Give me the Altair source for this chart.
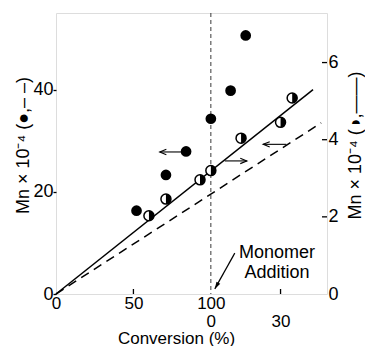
import altair as alt
import pandas as pd

FONT = "Liberation Sans"
FS = 18
FS_X = 17
W, H = 271, 281          # plot area
STAGE2_FACTOR = 1.5      # horizontal stretch of the post-addition conversion scale

# ---- data ------------------------------------------------------------------
# stage 1: conversion of the first monomer charge (0-100 %)
# stage 2: conversion after monomer addition (0-50 %)
filled_stage = [1, 1, 1, 1, 2, 2]
filled_conv = [52, 71, 84, 100, 8.5, 15]
filled_mn = [16.3, 23.3, 27.9, 34.3, 39.8, 50.6]        # Mn x 1e-4 (left axis)

half_stage = [1, 1, 1, 1, 2, 2, 2]
half_conv = [60, 71, 93, 100, 13, 30, 35]
half_mn = [2.03, 2.46, 2.96, 3.20, 4.04, 4.45, 5.08]     # Mn x 1e-4 (right axis)

line_stage = [1, 2]
solid_conv = [0, 44]
solid_mn = [0, 5.30]          # right axis
dashed_conv = [0, 47.5]
dashed_mn = [0, 33.5]         # left axis

# arrows pointing each series to its axis: (stage, tail, tip, y)
left_arrow_stage = [1]
left_arrow_tail = [81]
left_arrow_tip = [67]
left_arrow_y = [27.8]
left_arrow_dir = ["l"]

right_arrow_stage = [2, 2]
right_arrow_tail = [6, 32.5]
right_arrow_tip = [15.5, 22.5]
right_arrow_y = [3.45, 3.88]
right_arrow_dir = ["r", "l"]

# "Monomer Addition" pointer (stage-2 conversion, left-axis units)
note_text = ["Monomer", "Addition"]
note_x, note_y = 28.5, 9.8
pointer_from = (10.3, 8.0)
pointer_to = (1.7, 1.0)

left_ticks = [0, 20, 40]
right_ticks = [0, 2, 4, 6]
bottom_tick_pos = [0, 50, 100, 145]
bottom_inner_ticks = [50, 145]
left_domain = [0, 55]
right_domain = [0, 55 / 7.55]


def pos(stage, conv):
    return conv if stage == 1 else 100 + STAGE2_FACTOR * conv


filled_df = pd.DataFrame({"pos": [pos(s, c) for s, c in zip(filled_stage, filled_conv)],
                          "mn": filled_mn})
half_df = pd.DataFrame({"pos": [pos(s, c) for s, c in zip(half_stage, half_conv)],
                        "mn": half_mn})
solid_df = pd.DataFrame({"pos": [pos(s, c) for s, c in zip(line_stage, solid_conv)],
                         "mn": solid_mn})
dashed_df = pd.DataFrame({"pos": [pos(s, c) for s, c in zip(line_stage, dashed_conv)],
                          "mn": dashed_mn})
left_arrow_df = pd.DataFrame({
    "tail": [pos(s, c) for s, c in zip(left_arrow_stage, left_arrow_tail)],
    "pos": [pos(s, c) for s, c in zip(left_arrow_stage, left_arrow_tip)],
    "mn": left_arrow_y, "dir": left_arrow_dir})
right_arrow_df = pd.DataFrame({
    "tail": [pos(s, c) for s, c in zip(right_arrow_stage, right_arrow_tail)],
    "pos": [pos(s, c) for s, c in zip(right_arrow_stage, right_arrow_tip)],
    "mn": right_arrow_y, "dir": right_arrow_dir})
note_df = pd.DataFrame({"pos": [pos(2, note_x)], "mn": [note_y],
                        "text": ["\n".join(note_text)]})
pointer_df = pd.DataFrame({"tail": [pos(2, pointer_from[0])], "tail_mn": [pointer_from[1]],
                           "pos": [pos(2, pointer_to[0])], "mn": [pointer_to[1]]})
addition_df = pd.DataFrame({"pos": [100]})
bottom_ticks_df = pd.DataFrame({"pos": bottom_inner_ticks})
right_ticks_df = pd.DataFrame({"mn": [t for t in right_ticks if t > 0]})

# ---- symbols ---------------------------------------------------------------
RIGHT_HALF = "M0,-1 A1,1 0 0 1 0,1 Z"
HEAD_LEFT = "M2.2,-0.9 L0,0 L2.2,0.9"
HEAD_RIGHT = "M-2.2,-0.9 L0,0 L-2.2,0.9"
HEAD_SOLID = "M0,0 L2.6,-0.8 L2.6,0.8 Z"

# ---- scales & axes ---------------------------------------------------------
x_axis = alt.Axis(
    values=bottom_tick_pos,
    labelExpr="datum.value == 100 ? ['100', '0'] : datum.value == 145 ? ['', '30'] : datum.label",
    ticks=False, tickSize=0, domain=False, grid=False, labelPadding=1,
    labelFont=FONT, labelFontSize=FS_X, labelColor="black", labelLineHeight=18,
    labelOverlap=False, labelFlush=False,
    title="Conversion (%)", titleFont=FONT, titleFontSize=FS_X, titleFontWeight="normal",
    titleColor="black", titleX=120, titleY=49, titleAlign="center",
    titleBaseline="alphabetic", titleAnchor="start",
)
x_scale = alt.Scale(domain=[0, 175], nice=False, zero=False)


def X(field="pos"):
    return alt.X(f"{field}:Q", scale=x_scale, axis=x_axis)


left_axis = alt.Axis(
    orient="left", values=left_ticks, tickSize=3, tickWidth=1.3, tickColor="black",
    labelPadding=0, domain=False, grid=False,
    labelFont=FONT, labelFontSize=FS, labelColor="black",
    title="Mn × 10⁻⁴ (●,– –)", titleFont=FONT, titleFontSize=FS,
    titleFontWeight="normal", titleColor="black", titleAngle=270,
    titleX=-33, titleY=132, titleAlign="center", titleBaseline="middle",
)
right_axis = alt.Axis(
    orient="right", values=right_ticks, ticks=False, tickSize=0,
    labelPadding=1, domain=False, grid=False,
    labelFont=FONT, labelFontSize=FS, labelColor="black",
    title="Mn × 10⁻⁴ (◑,——)", titleFont=FONT, titleFontSize=FS,
    titleFontWeight="normal", titleColor="black", titleAngle=270,
    titleX=28, titleY=132, titleAlign="center", titleBaseline="middle",
)


def YL(field="mn"):
    return alt.Y(f"{field}:Q", scale=alt.Scale(domain=left_domain, nice=False), axis=left_axis)


def YR(field="mn"):
    return alt.Y(f"{field}:Q", scale=alt.Scale(domain=right_domain, nice=False), axis=right_axis)


# ---- left-axis layer (filled circles, dashed line) --------------------------
dashed_line = alt.Chart(dashed_df).mark_line(
    color="black", strokeWidth=1.5, strokeDash=[9, 6]).encode(x=X(), y=YL())
addition_line = alt.Chart(addition_df).mark_rule(
    color="#222", strokeWidth=0.9, strokeDash=[4, 3]).encode(x=X())
filled_pts = alt.Chart(filled_df).mark_point(
    shape="circle", filled=True, color="black", size=115, opacity=1).encode(x=X(), y=YL())
left_arrow_shaft = alt.Chart(left_arrow_df).mark_rule(
    color="black", strokeWidth=1.1).encode(x=X("tail"), x2="pos:Q", y=YL())
left_arrow_head = alt.Chart(left_arrow_df).mark_point(
    filled=False, color="black", size=36, strokeWidth=1.1, opacity=1).encode(
    x=X(), y=YL(),
    shape=alt.Shape("dir:N", scale=alt.Scale(domain=["l", "r"], range=[HEAD_LEFT, HEAD_RIGHT]),
                    legend=None))
note = alt.Chart(note_df).mark_text(
    font=FONT, fontSize=FS, color="black", align="center", baseline="top",
    lineBreak="\n", lineHeight=20).encode(x=X(), y=YL(), text="text:N")
pointer_shaft = alt.Chart(pointer_df).mark_rule(
    color="black", strokeWidth=1.2).encode(x=X("tail"), x2="pos:Q", y=YL("tail_mn"), y2="mn:Q")
pointer_head = alt.Chart(pointer_df).mark_point(
    shape=HEAD_SOLID, filled=True, color="black", size=30, angle=300, opacity=1).encode(
    x=X(), y=YL())
bottom_ticks = alt.Chart(bottom_ticks_df).mark_rule(
    color="black", strokeWidth=1.3).encode(x=X(), y=alt.value(H - 5), y2=alt.value(H))

left_layer = alt.layer(dashed_line, addition_line, filled_pts, left_arrow_shaft,
                       left_arrow_head, note, pointer_shaft, pointer_head, bottom_ticks)

# ---- right-axis layer (half-filled circles, solid line) ---------------------
solid_line = alt.Chart(solid_df).mark_line(
    color="black", strokeWidth=1.5).encode(x=X(), y=YR())
half_ring = alt.Chart(half_df).mark_point(
    shape="circle", filled=True, fill="white", stroke="black", strokeWidth=1.5,
    size=100, opacity=1).encode(x=X(), y=YR())
half_fill = alt.Chart(half_df).mark_point(
    shape=RIGHT_HALF, filled=True, color="black", size=100, opacity=1).encode(x=X(), y=YR())
right_arrow_shaft = alt.Chart(right_arrow_df).mark_rule(
    color="black", strokeWidth=1.1).encode(x=X("tail"), x2="pos:Q", y=YR())
right_arrow_head = alt.Chart(right_arrow_df).mark_point(
    filled=False, color="black", size=36, strokeWidth=1.1, opacity=1).encode(
    x=X(), y=YR(),
    shape=alt.Shape("dir:N", scale=alt.Scale(domain=["l", "r"], range=[HEAD_LEFT, HEAD_RIGHT]),
                    legend=None))
right_tick_marks = alt.Chart(right_ticks_df).mark_rule(
    color="black", strokeWidth=1.3).encode(y=YR(), x=alt.value(W - 5), x2=alt.value(W))

right_layer = alt.layer(solid_line, half_ring, half_fill, right_arrow_shaft,
                        right_arrow_head, right_tick_marks)

chart = (
    alt.layer(left_layer, right_layer)
    .resolve_scale(y="independent")
    .properties(width=W, height=H, autosize="none",
                padding={"left": 56, "top": 13, "right": 38, "bottom": 52})
    .configure_view(stroke="black", strokeWidth=1.5)
    .configure(background="white")
)

chart.save("out.html", embed_options={"renderer": "svg", "actions": False})
